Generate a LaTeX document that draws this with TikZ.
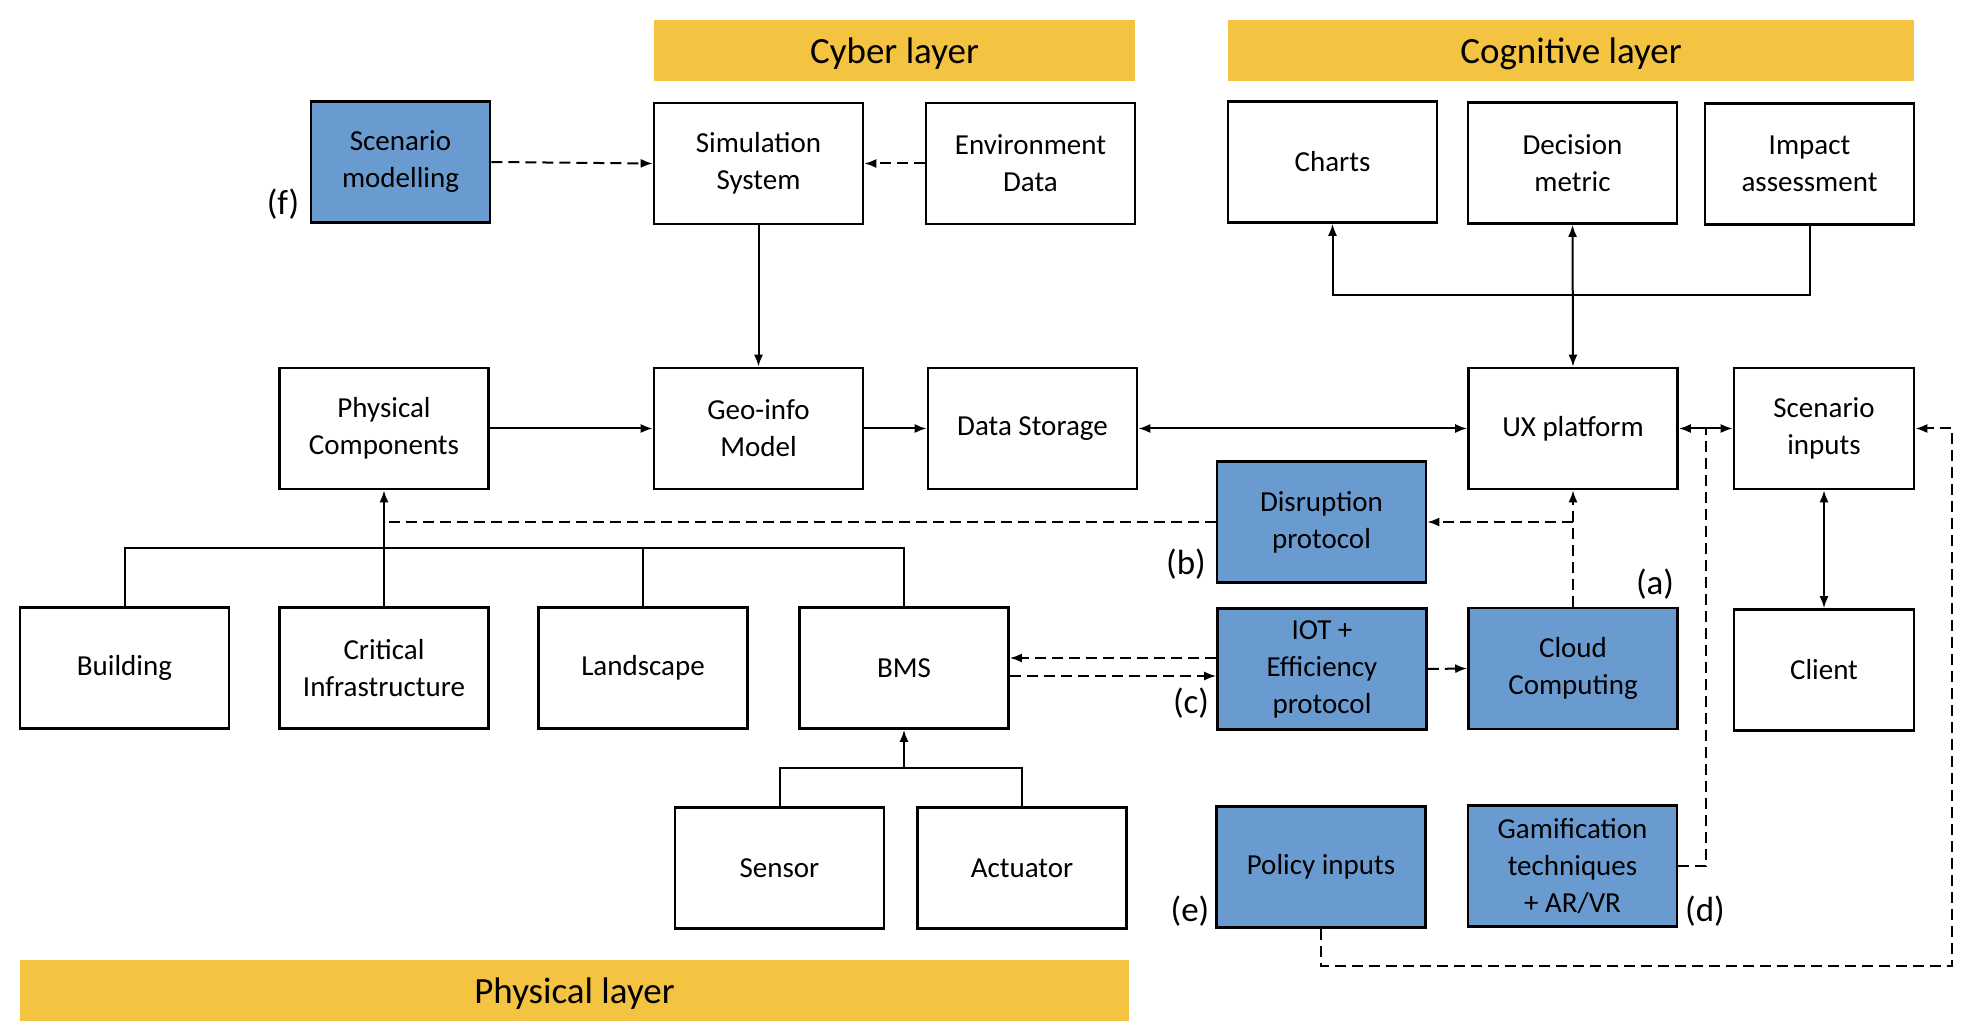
\documentclass[tikz,border=0pt]{standalone}
\usepackage{fontspec}
\setmainfont{Carlito}
\usetikzlibrary{shapes}
\usetikzlibrary{arrows.meta}
\definecolor{layeryellow}{RGB}{244,195,66}
\definecolor{toolblue}{RGB}{106,155,208}

\begin{document}
\begin{tikzpicture}[x=0.5pt,y=-0.5pt,>={Latex[length=6pt,width=4.5pt]},
	every node/.style={font=\fontsize{14.5}{18.5}\selectfont,align=center},
	box/.style={rectangle,draw,line width=1.3pt,minimum width=104.5pt,minimum height=60.5pt,inner sep=0pt},
	bluebox/.style={box,fill=toolblue},
	layer/.style={rectangle,fill=layeryellow,minimum height=30.5pt,inner sep=0pt,text height=14pt,text depth=1pt,font=\fontsize{18.5}{22}\selectfont},
	tag/.style={font=\fontsize{17.5}{20}\selectfont,inner sep=0pt},
	link/.style={line width=1pt},
	dlink/.style={line width=1pt,dash pattern=on 5.5pt off 3pt}
	]
	\useasboundingbox (0,0) rectangle (1976,1036);
	% layers
	\node[layer,minimum width=240.5pt](cyber) at (894.5,50.5){Cyber layer};
	\node[layer,minimum width=343pt](cognitive) at (1571,50.5){Cognitive layer};
	\node[layer,minimum width=554.5pt](physical) at (574.5,990){Physical layer};
	% top row
	\node[bluebox,minimum width=89.5pt](scenmod) at (400.5,162){Scenario\\modelling};
	\node[box](simsys) at (758.5,163.5){Simulation\\System};
	\node[box](envdata) at (1030.5,163.5){Environment\\Data};
	\node[box](charts) at (1332.5,162){Charts};
	\node[box](decision) at (1572.5,163){Decision\\metric};
	\node[box](impact) at (1809.5,164){Impact\\assessment};
	% second row
	\node[box](physcomp) at (384,428.5){Physical\\Components};
	\node[box](geo) at (758.5,428.5){Geo-info\\Model};
	\node[box](storage) at (1032.5,428.5){Data Storage};
	\node[box](ux) at (1573,428.5){UX platform};
	\node[box,minimum width=90pt](scenin) at (1824,428.5){Scenario\\inputs};
	\node[bluebox](disrupt) at (1321.5,522){Disruption\\protocol};
	% third row
	\node[box](building) at (124.5,668){Building};
	\node[box](critical) at (384,668){Critical\\Infrastructure};
	\node[box](landscape) at (643,668){Landscape};
	\node[box](bms) at (904,668){BMS};
	\node[bluebox](iot) at (1322,669){IOT +\\Efficiency\\protocol};
	\node[bluebox](cloud) at (1573,668.5){Cloud\\Computing};
	\node[box,minimum width=90pt](client) at (1824,670){Client};
	% bottom row
	\node[box](sensor) at (779.5,868){Sensor};
	\node[box](actuator) at (1022,868){Actuator};
	\node[bluebox](policy) at (1321,867){Policy inputs};
	\node[bluebox](gamif) at (1572.5,866){Gamification\\techniques\\+ AR/VR};
	% tags
	\node[tag](tagf) at (283,204){(f)};
	\node[tag](tagb) at (1186,564){(b)};
	\node[tag](taga) at (1655,584){(a)};
	\node[tag](tagc) at (1191,703){(c)};
	\node[tag](tage) at (1190,911){(e)};
	\node[tag](tagd) at (1705,911){(d)};
	% joints
	\coordinate (hub) at (1572.5,295);
	\coordinate (ptree) at (384,548);
	\coordinate (btree) at (904,768);
	\coordinate (gjoin) at (1706,428.5);
	\coordinate (pturn) at (1952,966);
	% cyber links
	\draw[dlink,->] (scenmod.east) -- (simsys.west);
	\draw[dlink,->] (envdata.west) -- (simsys.east);
	\draw[link,->] (simsys.south) -- (geo.north);
	\draw[link,->] (physcomp.east) -- (geo.west);
	\draw[link,->] (geo.east) -- (storage.west);
	\draw[link,<->] (storage.east) -- (ux.west);
	\draw[link,<->] (ux.east) -- (scenin.west);
	\draw[link,<->] (scenin.south) -- (client.north);
	% cognitive links
	\draw[link,->] (impact.south) |- (hub) -| (charts.south);
	\draw[link,<->] (decision.south) -- (ux.north);
	% physical tree
	\draw[link] (building.north) |- (ptree) -| (bms.north);
	\draw[link] (landscape.north) -- (landscape.north |- ptree);
	\draw[link,->] (critical.north) -- (physcomp.south);
	\draw[link] (sensor.north) |- (btree) -| (actuator.north);
	\draw[link,->] (btree) -- (bms.south);
	% dashed links
	\draw[dlink] (disrupt.west) -- (disrupt.west -| physcomp.south);
	\draw[dlink,->] (cloud.north) -- (ux.south);
	\draw[dlink,->] (cloud.north |- disrupt.east) -- (disrupt.east);
	\draw[dlink,->] ([yshift=5.5pt]iot.west) -- ([yshift=5.5pt]iot.west -| bms.east);
	\draw[dlink,->] ([yshift=-3.5pt]iot.west -| bms.east) -- ([yshift=-3.5pt]iot.west);
	\draw[dlink,->] (iot.east) -- (cloud.west);
	\draw[dlink] (gamif.east) -| (gjoin);
	\draw[dlink,->] (policy.south) |- (pturn) |- (scenin.east);
\end{tikzpicture}
\end{document}
